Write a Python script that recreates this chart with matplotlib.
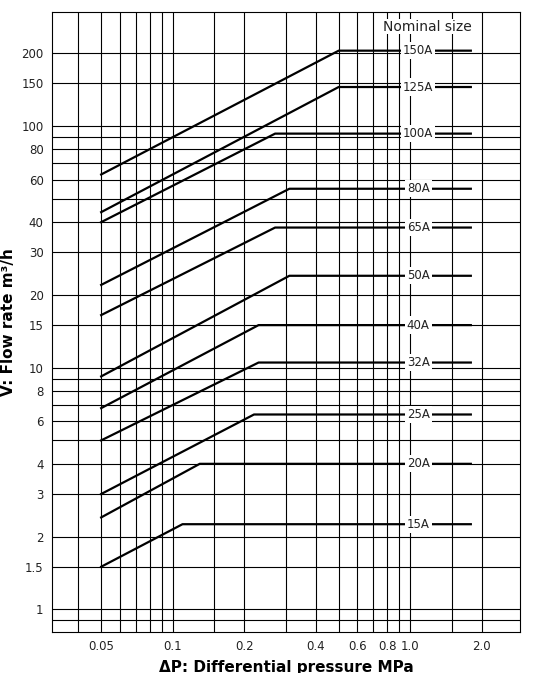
import matplotlib
matplotlib.use('Agg')
import matplotlib.pyplot as plt

# nominal sizes, flow at 0.05 MPa, knee pressure, max flow
sizes = ['150A', '125A', '100A', '80A', '65A', '50A', '40A', '32A', '25A', '20A', '15A']
v_start = [63, 44, 40, 22, 16.5, 9.2, 6.8, 5.0, 3.0, 2.4, 1.5]
p_knee = [0.5, 0.5, 0.27, 0.31, 0.27, 0.31, 0.23, 0.23, 0.22, 0.13, 0.11]
v_max = [205, 145, 93, 55, 38, 24, 15, 10.5, 6.4, 4.0, 2.25]
p_start = 0.05
p_end = 1.8

x_grid = [0.04, 0.05, 0.06, 0.07, 0.08, 0.09, 0.1, 0.15, 0.2, 0.3, 0.4, 0.5,
          0.6, 0.7, 0.8, 0.9, 1.0, 1.5, 2.0]
x_ticks = [0.05, 0.1, 0.2, 0.4, 0.6, 0.8, 1.0, 2.0]
x_labels = ['0.05', '0.1', '0.2', '0.4', '0.6', '0.8', '1.0', '2.0']
y_grid = [0.9, 1, 1.5, 2, 3, 4, 5, 6, 7, 8, 9, 10, 15, 20, 30, 40, 50, 60,
          70, 80, 90, 100, 150, 200]
y_ticks = [1, 1.5, 2, 3, 4, 6, 8, 10, 15, 20, 30, 40, 60, 80, 100, 150, 200]
y_labels = ['1', '1.5', '2', '3', '4', '6', '8', '10', '15', '20', '30', '40',
            '60', '80', '100', '150', '200']

fig = plt.figure(figsize=(5.4, 6.73), dpi=100)
ax = fig.add_axes([0.096, 0.061, 0.867, 0.921])
ax.set_xscale('log')
ax.set_yscale('log')
ax.set_xlim(0.031, 2.9)
ax.set_ylim(0.806, 296)

for gx in x_grid:
    ax.axvline(gx, color='black', lw=0.8, zorder=1)
for gy in y_grid:
    ax.axhline(gy, color='black', lw=0.8, zorder=1)

for name, v0, pk, vm in zip(sizes, v_start, p_knee, v_max):
    ax.plot([p_start, pk, p_end], [v0, vm, vm], color='black', lw=1.6, zorder=3)
    ax.text(1.08, vm, name, ha='center', va='center', fontsize=8.5, color='#222222',
            bbox=dict(facecolor='white', edgecolor='none', pad=1.5), zorder=4)

ax.text(1.18, 258, 'Nominal size', ha='center', va='center', fontsize=10, color='#222222',
        bbox=dict(facecolor='white', edgecolor='none', pad=0.5), zorder=4)

ax.set_xticks(x_ticks)
ax.set_xticklabels(x_labels)
ax.set_yticks(y_ticks)
ax.set_yticklabels(y_labels)
ax.minorticks_off()
ax.tick_params(length=0, labelsize=8.5, colors='#222222', pad=6)
for s in ax.spines.values():
    s.set_linewidth(0.8)

ax.set_xlabel('ΔP: Differential pressure MPa', fontsize=11, fontweight='bold', labelpad=5)
ax.set_ylabel('V: Flow rate m³/h', fontsize=11, fontweight='bold', labelpad=4)

fig.savefig('out.png', dpi=100)
